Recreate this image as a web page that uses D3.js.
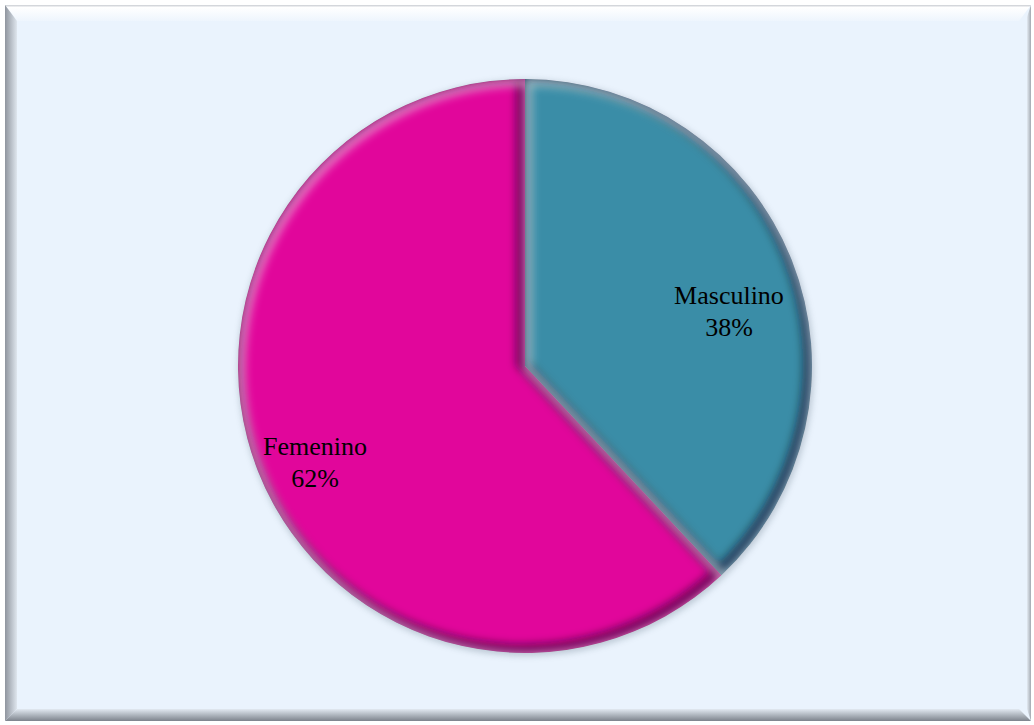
<!DOCTYPE html>
<html><head><meta charset="utf-8">
<script src="https://cdn.jsdelivr.net/npm/d3@7"></script>
<style>html,body{margin:0;padding:0;background:#fff;}svg{display:block;}</style>
</head><body>
<script>
const categories = ["Masculino", "Femenino"];
const values = [38, 62];
const labels = ["38%", "62%"];
const colors = ["#3A8DA7", "#E1069B"];

const W = 1034, H = 725;
const svg = d3.select("body").append("svg").attr("width", W).attr("height", H);
const defs = svg.append("defs");

// frame gradients
const gTop = defs.append("linearGradient").attr("id","gTop").attr("x1",0).attr("y1",0).attr("x2",0).attr("y2",1);
gTop.append("stop").attr("offset",0).attr("stop-color","#c9ccd2");
gTop.append("stop").attr("offset",0.15).attr("stop-color","#ffffff");
gTop.append("stop").attr("offset",1).attr("stop-color","#eef5fd");
const gLeft = defs.append("linearGradient").attr("id","gLeft").attr("x1",0).attr("y1",0).attr("x2",1).attr("y2",0);
gLeft.append("stop").attr("offset",0).attr("stop-color","#8f959e");
gLeft.append("stop").attr("offset",1).attr("stop-color","#dfe6ee");
const gBot = defs.append("linearGradient").attr("id","gBot").attr("x1",0).attr("y1",0).attr("x2",0).attr("y2",1);
gBot.append("stop").attr("offset",0).attr("stop-color","#e2e9f1");
gBot.append("stop").attr("offset",1).attr("stop-color","#7d838c");
const gRight = defs.append("linearGradient").attr("id","gRight").attr("x1",0).attr("y1",0).attr("x2",1).attr("y2",0);
gRight.append("stop").attr("offset",0).attr("stop-color","#e3eaf2");
gRight.append("stop").attr("offset",1).attr("stop-color","#a3a9b1");

const fx0 = 5, fy0 = 5, fx1 = 1031, fy1 = 721, bw = 12;
svg.append("rect").attr("x",fx0).attr("y",fy0).attr("width",fx1-fx0).attr("height",fy1-fy0).attr("fill","#EAF3FD");
svg.append("path").attr("d",`M${fx0},${fy0}H${fx1}L${fx1-bw},${fy0+bw+4}H${fx0+bw}Z`).attr("fill","url(#gTop)");
svg.append("path").attr("d",`M${fx0},${fy0}L${fx0+bw},${fy0+bw+4}V${fy1-bw}L${fx0},${fy1}Z`).attr("fill","url(#gLeft)");
svg.append("path").attr("d",`M${fx0},${fy1}L${fx0+bw},${fy1-bw}H${fx1-bw}L${fx1},${fy1}Z`).attr("fill","url(#gBot)");
svg.append("path").attr("d",`M${fx1},${fy0}L${fx1-bw+8},${fy0+bw}V${fy1-bw}L${fx1},${fy1}Z`).attr("fill","url(#gRight)");

// pie
const cx = 525, cy = 366, R = 287;
const pie = d3.pie().sort(null).value(d => d)(values);
const arc = d3.arc().innerRadius(0).outerRadius(R);

defs.append("filter").attr("id","blur").attr("x","-20%").attr("y","-20%").attr("width","140%").attr("height","140%")
  .append("feGaussianBlur").attr("stdDeviation",4);
defs.append("filter").attr("id","oshadow").attr("x","-20%").attr("y","-20%").attr("width","140%").attr("height","140%")
  .append("feGaussianBlur").attr("stdDeviation",3);

const g = svg.append("g").attr("transform",`translate(${cx},${cy})`);
g.append("circle").attr("r",R+1).attr("cx",1).attr("cy",2).attr("fill","#6b7c8c").attr("opacity",0.35).attr("filter","url(#oshadow)");

pie.forEach((p,i) => {
  const id = "clip"+i;
  defs.append("clipPath").attr("id",id).append("path").attr("d",arc(p)).attr("transform",`translate(${cx},${cy})`);
  const sg = svg.append("g").attr("clip-path",`url(#${id})`);
  sg.append("path").attr("d",arc(p)).attr("transform",`translate(${cx},${cy})`).attr("fill",colors[i]);
  sg.append("path").attr("d",arc(p)).attr("transform",`translate(${cx-3},${cy-3})`)
    .attr("fill","none").attr("stroke","#1a0a20").attr("stroke-opacity",0.55).attr("stroke-width",12).attr("filter","url(#blur)");
  sg.append("path").attr("d",arc(p)).attr("transform",`translate(${cx+3},${cy+3})`)
    .attr("fill","none").attr("stroke","#ffffff").attr("stroke-opacity",0.5).attr("stroke-width",8).attr("filter","url(#blur)");
});

// labels
const labelPos = [[729, 304], [315, 455]];
const lines = 31.5;
categories.forEach((c,i) => {
  const t = svg.append("text").attr("text-anchor","middle")
    .attr("font-family","'Liberation Serif','Times New Roman',serif").attr("font-size",26).attr("fill","#000");
  t.append("tspan").attr("x",labelPos[i][0]).attr("y",labelPos[i][1]).text(c);
  t.append("tspan").attr("x",labelPos[i][0]).attr("y",labelPos[i][1]+lines).text(labels[i]);
});
</script>
</body></html>
